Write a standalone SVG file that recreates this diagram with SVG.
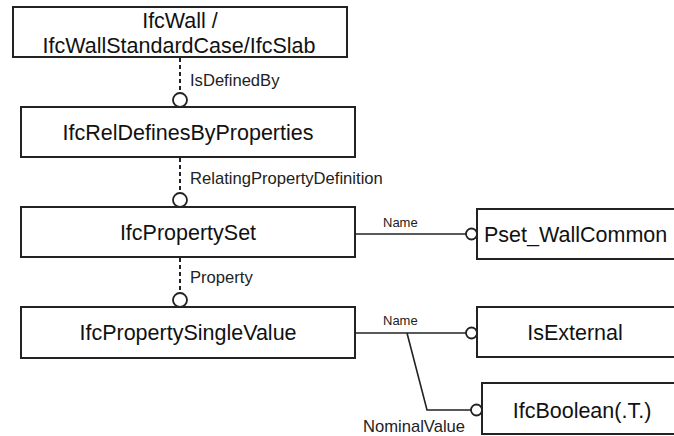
<svg xmlns="http://www.w3.org/2000/svg" width="674" height="436" viewBox="0 0 674 436">
<style>
.box{fill:#fff;stroke:#222;stroke-width:2}
.t{font-family:"Liberation Sans",Arial,sans-serif;font-size:21.5px;fill:#111;text-anchor:middle}
.l{font-family:"Liberation Sans",Arial,sans-serif;font-size:16.6px;fill:#222}
.s{font-family:"Liberation Sans",Arial,sans-serif;font-size:13px;fill:#222}
.dash{stroke:#222;stroke-width:2;stroke-dasharray:4 3;fill:none}
.ln{stroke:#222;stroke-width:1.6;fill:none}
.c{fill:#fff;stroke:#222;stroke-width:1.8}
</style>
<rect width="674" height="436" fill="#fff"/>
<g id="connectors">
  <line class="dash" x1="180" y1="58" x2="180" y2="93"/>
  <circle class="c" cx="180" cy="100" r="7"/>
  <text class="l" x="190" y="86">IsDefinedBy</text>
  <line class="dash" x1="180" y1="158" x2="180" y2="193"/>
  <circle class="c" cx="180" cy="200" r="7"/>
  <text class="l" x="190" y="184">RelatingPropertyDefinition</text>
  <line class="dash" x1="180" y1="258" x2="180" y2="293"/>
  <circle class="c" cx="180" cy="300" r="7"/>
  <text class="l" x="190" y="283">Property</text>
  <line class="ln" x1="355" y1="234" x2="466" y2="234"/>
  <circle class="c" cx="471.5" cy="234" r="5.5"/>
  <text class="s" x="383" y="227">Name</text>
  <line class="ln" x1="355" y1="333" x2="466" y2="333"/>
  <circle class="c" cx="471.5" cy="333" r="5.5"/>
  <text class="s" x="383" y="325">Name</text>
  <polyline class="ln" points="407,333 427,410 471,410"/>
  <circle class="c" cx="476.5" cy="410" r="5.5"/>
  <text class="l" x="363" y="432">NominalValue</text>
</g>
<g id="ifcwall">
  <rect class="box" x="13" y="7" width="334" height="50"/>
  <text class="t" x="180" y="28">IfcWall /</text>
  <text class="t" x="179" y="53">IfcWallStandardCase/IfcSlab</text>
</g>
<g id="ifcreldefinesbyproperties">
  <rect class="box" x="21" y="107" width="334" height="50"/>
  <text class="t" x="188" y="140">IfcRelDefinesByProperties</text>
</g>
<g id="ifcpropertyset">
  <rect class="box" x="21" y="207" width="334" height="50"/>
  <text class="t" x="188" y="240">IfcPropertySet</text>
</g>
<g id="ifcpropertysinglevalue">
  <rect class="box" x="21" y="307" width="334" height="51"/>
  <text class="t" x="188" y="340">IfcPropertySingleValue</text>
</g>
<g id="pset_wallcommon">
  <rect class="box" x="477" y="209" width="210" height="50"/>
  <text class="t" x="484" y="242" style="text-anchor:start">Pset_WallCommon</text>
</g>
<g id="isexternal">
  <rect class="box" x="477" y="307" width="210" height="50"/>
  <text class="t" x="575" y="340">IsExternal</text>
</g>
<g id="ifcboolean">
  <rect class="box" x="482" y="383" width="210" height="51"/>
  <text class="t" x="582" y="418">IfcBoolean(.T.)</text>
</g>
</svg>
